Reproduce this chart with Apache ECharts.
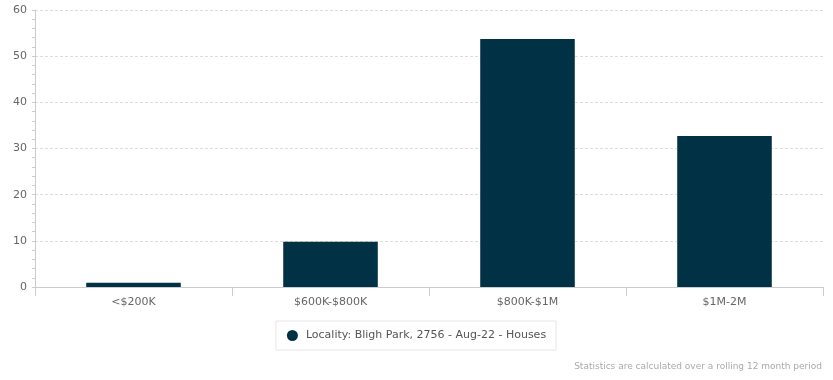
<!DOCTYPE html>
<html><head><meta charset="utf-8">
<script src="https://cdn.jsdelivr.net/npm/echarts@6/dist/echarts.min.js"></script>
<style>html,body{margin:0;padding:0;background:#fff}#c{width:833px;height:380px}</style>
</head><body><div id="c"></div>
<script>
const categories = ['<$200K', '$600K-$800K', '$800K-$1M', '$1M-2M'];
const values = [0.9, 9.8, 53.7, 32.7];
const seriesName = 'Locality: Bligh Park, 2756 - Aug-22 - Houses';
const footnote = 'Statistics are calculated over a rolling 12 month period';
const yTicks = {min: 0, max: 60, interval: 10};

const chart = echarts.init(document.getElementById('c'));
chart.setOption({
  animation: false,
  textStyle: {fontFamily: 'DejaVu Sans'},
  grid: {left: 35, right: 10, top: 10, bottom: 93, containLabel: false},
  xAxis: {
    type: 'category', data: categories,
    axisLine: {lineStyle: {color: '#ccc'}},
    axisTick: {show: true, length: 9, lineStyle: {color: '#ccc'}},
    axisLabel: {color: '#666', fontSize: 11, margin: 10},
    splitLine: {show: false}
  },
  yAxis: {
    type: 'value', min: yTicks.min, max: yTicks.max, interval: yTicks.interval,
    axisLine: {show: true, lineStyle: {color: '#ccc'}},
    axisTick: {show: true, length: 3, lineStyle: {color: '#ccc'}},
    minorTick: {show: true, splitNumber: 5, length: 3, lineStyle: {color: '#ccc'}},
    axisLabel: {color: '#666', fontSize: 11, margin: 8},
    splitLine: {show: true, lineStyle: {color: '#ddd', type: [3, 2]}}
  },
  legend: {
    data: [{name: seriesName, icon: 'circle'}],
    top: 321, left: 'center',
    padding: [9, 10, 9, 11],
    borderColor: '#e6e6e6', borderWidth: 1,
    itemWidth: 11, itemHeight: 11, itemGap: 8,
    textStyle: {color: '#555', fontSize: 11, padding: [0, 0, 0, 3]}
  },
  graphic: [{
    type: 'text', right: 11, top: 362,
    style: {text: footnote, fill: '#aaa', fontSize: 9, fontFamily: 'DejaVu Sans'}
  }],
  series: [{
    name: seriesName, type: 'bar', data: values,
    barWidth: '48%',
    itemStyle: {color: '#003145'}
  }]
});
</script></body></html>
